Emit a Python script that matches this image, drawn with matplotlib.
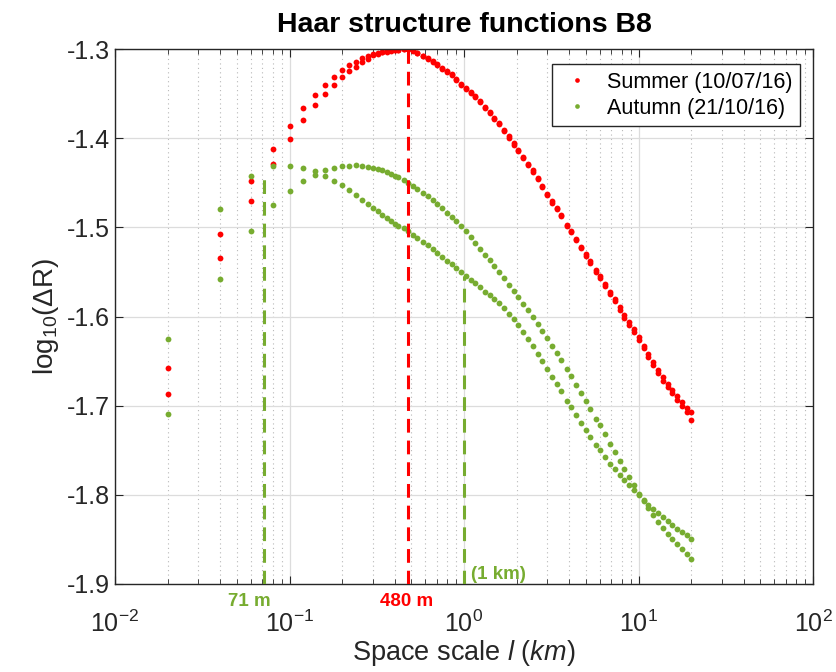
import numpy as np
import matplotlib
matplotlib.use("Agg")
import matplotlib.pyplot as plt
from matplotlib.ticker import LogLocator, FixedLocator, NullFormatter
import matplotlib.transforms as mtransforms

plt.rcParams["font.family"] = ["Liberation Sans", "DejaVu Sans"]
plt.rcParams["mathtext.fontset"] = "custom"
plt.rcParams["mathtext.rm"] = "Liberation Sans"
plt.rcParams["mathtext.it"] = "Liberation Sans:italic"
plt.rcParams["mathtext.bf"] = "Liberation Sans:bold"
plt.rcParams["axes.unicode_minus"] = False

# space scales (km)
scale_early = [0.02, 0.04, 0.06, 0.08, 0.10, 0.12, 0.14, 0.16, 0.18, 0.20,
               0.22, 0.24, 0.26, 0.28, 0.30, 0.32, 0.34, 0.36, 0.38, 0.40]
scale_tail = [0.42, 0.45, 0.48, 0.51, 0.54, 0.58, 0.62, 0.66, 0.70, 0.75,
              0.80, 0.85, 0.90, 0.96, 1.02, 1.09, 1.16, 1.24, 1.32, 1.40,
              1.49, 1.59, 1.70, 1.81, 1.93, 2.05, 2.19, 2.33, 2.48, 2.64,
              2.81, 3.00, 3.20, 3.40, 3.60, 3.90, 4.10, 4.40, 4.70, 5.00,
              5.30, 5.70, 6.00, 6.40, 6.90, 7.30, 7.80, 8.30, 8.80, 9.40,
              10.0, 10.7, 11.4, 12.1, 12.9, 13.8, 14.7, 15.6, 16.6, 17.7,
              18.9, 20.0]

# summer (10/07/16), two interleaved branches
summer_early_a = [-1.658, -1.5075, -1.448, -1.412, -1.386, -1.366, -1.352, -1.340, -1.331, -1.3236,
                  -1.318, -1.314, -1.3105, -1.308, -1.3056, -1.304, -1.303, -1.302, -1.3015, -1.301]
summer_early_b = [-1.687, -1.5345, -1.470, -1.429, -1.401, -1.380, -1.363, -1.350, -1.340, -1.3315,
                  -1.325, -1.320, -1.3146, -1.311, -1.307, -1.305, -1.3038, -1.3028, -1.302, -1.3015]
summer_tail_a = [-1.3008, -1.3003, -1.3000, -1.3015, -1.3040, -1.3075, -1.3105, -1.3138, -1.3172, -1.3212,
                 -1.3248, -1.3285, -1.3334, -1.3389, -1.3434, -1.3478, -1.3530, -1.3586, -1.3650, -1.3709,
                 -1.3771, -1.3834, -1.3907, -1.3980, -1.4059, -1.4135, -1.4213, -1.4285, -1.4362, -1.4448,
                 -1.4533, -1.4621, -1.4707, -1.4782, -1.4856, -1.4969, -1.5039, -1.5129, -1.5216, -1.5301,
                 -1.5380, -1.5478, -1.5546, -1.5630, -1.5727, -1.5805, -1.5898, -1.5985, -1.6063, -1.6145,
                 -1.6233, -1.6327, -1.6421, -1.6506, -1.6596, -1.6684, -1.6755, -1.6823, -1.6891, -1.6960,
                 -1.7022, -1.7075]
summer_tail_b = [-1.3010, -1.3004, -1.3002, -1.3020, -1.3046, -1.3082, -1.3112, -1.3146, -1.3180, -1.3220,
                 -1.3258, -1.3296, -1.3344, -1.3398, -1.3445, -1.3490, -1.3542, -1.3598, -1.3662, -1.3720,
                 -1.3783, -1.3846, -1.3920, -1.3993, -1.4072, -1.4148, -1.4226, -1.4298, -1.4376, -1.4462,
                 -1.4547, -1.4636, -1.4722, -1.4798, -1.4872, -1.4985, -1.5056, -1.5146, -1.5234, -1.5320,
                 -1.5400, -1.5500, -1.5568, -1.5654, -1.5752, -1.5830, -1.5924, -1.6012, -1.6091, -1.6174,
                 -1.6263, -1.6358, -1.6453, -1.6540, -1.6630, -1.6720, -1.6792, -1.6862, -1.6931, -1.7002,
                 -1.7068, -1.7165]

# autumn (21/10/16), two interleaved branches
autumn_early_a = [-1.625, -1.479, -1.442, -1.431, -1.431, -1.433, -1.437, -1.442, -1.448, -1.4528,
                  -1.4584, -1.4633, -1.4689, -1.4734, -1.4779, -1.482, -1.4858, -1.4895, -1.4933, -1.4966]
autumn_early_b = [-1.709, -1.558, -1.504, -1.475, -1.459, -1.448, -1.441, -1.436, -1.433, -1.431,
                  -1.4307, -1.4305, -1.4311, -1.4318, -1.4329, -1.434, -1.436, -1.4379, -1.4397, -1.442]
autumn_tail_a = [-1.4985, -1.5012, -1.5046, -1.5083, -1.5116, -1.5159, -1.5199, -1.5242, -1.5282, -1.5330,
                 -1.5375, -1.5416, -1.5456, -1.5501, -1.5543, -1.5587, -1.5629, -1.5674, -1.5720, -1.5761,
                 -1.5806, -1.5852, -1.5910, -1.5968, -1.6033, -1.6099, -1.6170, -1.6247, -1.6329, -1.6415,
                 -1.6497, -1.6586, -1.6676, -1.6759, -1.6839, -1.6950, -1.7018, -1.7108, -1.7195, -1.7276,
                 -1.7347, -1.7437, -1.7498, -1.7574, -1.7654, -1.7711, -1.7781, -1.7838, -1.7888, -1.7946,
                 -1.8002, -1.8057, -1.8110, -1.8158, -1.8208, -1.8254, -1.8297, -1.8339, -1.8378, -1.8417,
                 -1.8456, -1.8490]
autumn_tail_b = [-1.4438, -1.4467, -1.4503, -1.4532, -1.4566, -1.4610, -1.4650, -1.4697, -1.4735, -1.4784,
                 -1.4837, -1.4885, -1.4933, -1.4989, -1.5045, -1.5108, -1.5170, -1.5240, -1.5307, -1.5367,
                 -1.5432, -1.5498, -1.5572, -1.5644, -1.5715, -1.5783, -1.5859, -1.5932, -1.6005, -1.6085,
                 -1.6163, -1.6244, -1.6327, -1.6407, -1.6485, -1.6593, -1.6664, -1.6763, -1.6859, -1.6948,
                 -1.7034, -1.7144, -1.7220, -1.7317, -1.7432, -1.7516, -1.7618, -1.7711, -1.7796, -1.7894,
                 -1.7986, -1.8070, -1.8151, -1.8227, -1.8302, -1.8372, -1.8437, -1.8499, -1.8556, -1.8612,
                 -1.8668, -1.8718]

# marked scales: (scale km, top of dashed line, label, label x, colour key)
marks = [(0.071, -1.444, "71 m", 0.0586, "autumn"),
         (0.48, -1.30, "480 m", 0.47, "summer"),
         (1.0, -1.554, "(1 km)", 1.10, "autumn")]

red = "#ff0000"
green = "#77ac30"
colmap = {"summer": red, "autumn": green}

scales = scale_early + scale_tail
summer_a = summer_early_a + summer_tail_a
summer_b = summer_early_b + summer_tail_b
autumn_a = autumn_early_a + autumn_tail_a
autumn_b = autumn_early_b + autumn_tail_b

fig = plt.figure(figsize=(8.36, 6.72), dpi=100)
ax = fig.add_axes([0.1376, 0.131, 0.8349, 0.796])

ms = 4.2
ax.plot(scales, summer_a, "o", color=red, ms=ms, mec="none", label="Summer (10/07/16)")
ax.plot(scales, summer_b, "o", color=red, ms=ms, mec="none")
ax.plot(scales, autumn_a, "o", color=green, ms=ms, mec="none", label="Autumn (21/10/16)")
ax.plot(scales, autumn_b, "o", color=green, ms=ms, mec="none")

trans = mtransforms.blended_transform_factory(ax.transData, ax.transAxes)
for xs, top, txt, xt, key in marks:
    c = colmap[key]
    ax.plot([xs, xs], [-1.9, top], color=c, lw=2.2, ls=(0, (4.5, 2.6)), zorder=3)
    if txt.startswith("("):
        ax.text(xt, -1.889, txt, color=c, fontsize=13.5, fontweight="bold",
                ha="left", va="center")
    else:
        ax.text(xt, -0.032, txt, color=c, fontsize=13.5, fontweight="bold",
                ha="center", va="center", transform=trans)

ax.set_xscale("log")
ax.set_xlim(1e-2, 1e2)
ax.set_ylim(-1.9, -1.3)
ax.yaxis.set_major_locator(FixedLocator([-1.9, -1.8, -1.7, -1.6, -1.5, -1.4, -1.3]))
ax.set_yticklabels(["-1.9", "-1.8", "-1.7", "-1.6", "-1.5", "-1.4", "-1.3"])
ax.xaxis.set_major_locator(LogLocator(base=10, numticks=10))
ax.xaxis.set_minor_locator(LogLocator(base=10, subs=np.arange(2, 10), numticks=20))
ax.xaxis.set_minor_formatter(NullFormatter())

ax.grid(True, which="major", color="#dcdcdc", lw=0.9, ls="-")
ax.grid(True, which="minor", axis="x", color="#b8b8b8", lw=0.8, ls=(0, (1, 3)))
ax.set_axisbelow(True)

for s in ax.spines.values():
    s.set_color("#262626")
    s.set_linewidth(1.0)
ax.tick_params(which="both", direction="in", top=True, right=True, colors="#262626",
               labelsize=18, labelcolor="#262626")
ax.tick_params(which="major", length=6)
ax.tick_params(which="minor", length=3.5)
ax.tick_params(axis="x", pad=19)

ax.set_title("Haar structure functions B8", fontsize=20.5, fontweight="bold", pad=12)
ax.set_xlabel(r"Space scale $\mathit{l\ (km)}$", fontsize=19.5, color="#262626", labelpad=1)
ax.set_ylabel(r"log$_{10}$($\Delta$R)", fontsize=20, color="#262626", labelpad=4)

leg = ax.legend(loc="upper right", bbox_to_anchor=(0.981, 0.972), borderaxespad=0,
                fontsize=15.5, fancybox=False, edgecolor="#262626", framealpha=1,
                numpoints=1, handlelength=1.6, handletextpad=0.6, borderpad=0.35,
                labelspacing=0.25, markerscale=0.8)
leg.get_frame().set_linewidth(1.0)

fig.savefig("out.png", dpi=100)
